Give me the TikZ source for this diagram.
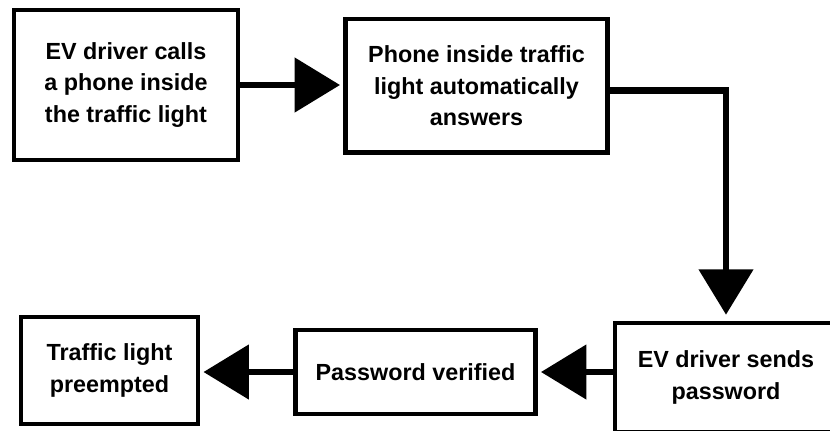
\documentclass[tikz,border=0pt]{standalone}
\usepackage{fontspec}
\setmainfont{Liberation Sans}
\usepackage{tikz}
\usetikzlibrary{arrows.meta}
\tikzset{
  stepbox/.style={rectangle, draw=black, fill=white, line width=3.2pt, inner sep=0pt,
                  align=center, font=\fontsize{17.5}{23.5}\selectfont\bfseries},
  flow/.style={draw=black, line width=5pt, shorten >=2.5pt,
               -{Triangle[length=34pt,width=40pt]}},             % thick flow arrow
}

\begin{document}
\begin{tikzpicture}[x=0.75pt, y=-0.75pt]
  \useasboundingbox (0,0) rectangle (830,430);
  \clip (0,0) rectangle (830,430);
  \node[stepbox, minimum width=168pt, minimum height=112.5pt] (call) at (126,85)
    {EV driver calls\\a phone inside\\the traffic light};
  \node[stepbox, minimum width=196.5pt, minimum height=100pt] (answer) at (476.5,85.75)
    {Phone inside traffic\\light automatically\\answers};
  \node[stepbox, minimum width=166.5pt, minimum height=82pt] (send) at (726,377.5)
    {EV driver sends\\password};
  \node[stepbox, minimum width=180pt, minimum height=62.6pt] (verify) at (415.5,372)
    {Password verified};
  \node[stepbox, minimum width=132.75pt, minimum height=80.25pt] (preempt) at (109.5,370.5)
    {Traffic light\\preempted};
  % arrows between the steps
  \draw[flow] (call.east) -- (call.east -| answer.west);
  \draw[flow, shorten >=4.5pt] ([yshift=-3.75pt]answer.east) -| (send.north);
  \draw[flow] (verify.east -| send.west) -- (verify.east);
  \draw[flow] (verify.west) -- (verify.west -| preempt.east);
\end{tikzpicture}
\end{document}
